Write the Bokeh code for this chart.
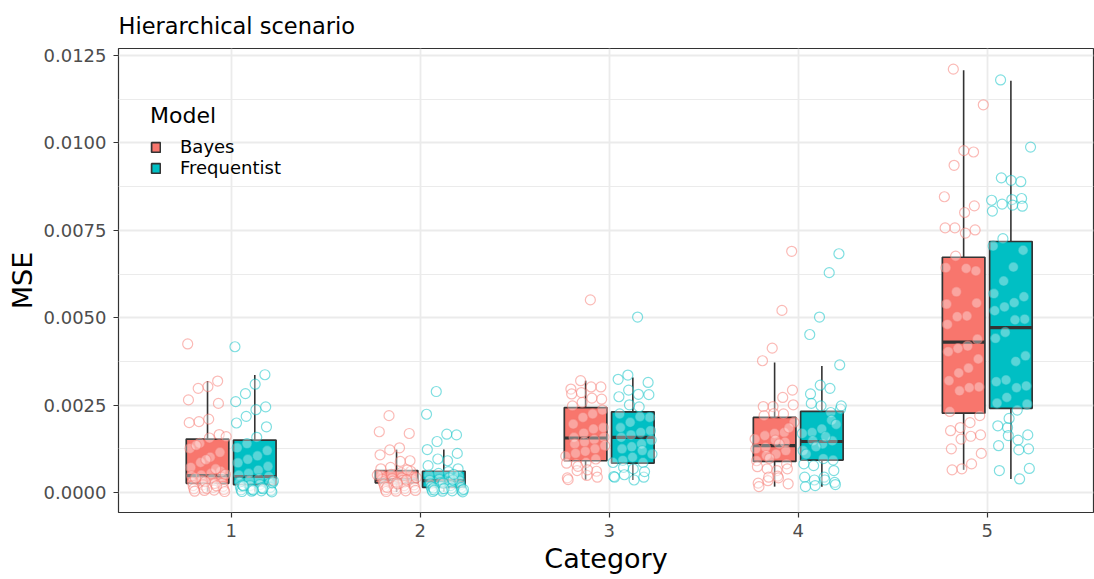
from bokeh.plotting import figure
from bokeh.models import (ColumnDataSource, FixedTicker, Legend, LegendItem,
                          Range1d, PrintfTickFormatter)
from bokeh.embed import file_html
from bokeh.resources import INLINE

# ---------------- data ----------------
categories = ["1", "2", "3", "4", "5"]
models = ["Bayes", "Frequentist"]

bayes_q1 = [0.000265, 0.00028, 0.00091, 0.00089, 0.00227]
bayes_med = [0.000485, 0.00037, 0.00156, 0.00134, 0.00430]
bayes_q3 = [0.00153, 0.00063, 0.00243, 0.00215, 0.00673]
bayes_lo = [0.00003, 0.00002, 0.00037, 0.00017, 0.00065]
bayes_hi = [0.00319, 0.00123, 0.00320, 0.00372, 0.01208]

freq_q1 = [0.00023, 0.00015, 0.00084, 0.00093, 0.00241]
freq_med = [0.00046, 0.00034, 0.00158, 0.00146, 0.00472]
freq_q3 = [0.00150, 0.00061, 0.00231, 0.00232, 0.00718]
freq_lo = [0.00002, 0.00002, 0.00036, 0.00017, 0.00039]
freq_hi = [0.00336, 0.00123, 0.00329, 0.00362, 0.01178]

bayes_pts_1 = [0.00425, 0.00319, 0.00303, 0.00298, 0.00265, 0.00255, 0.00210, 0.00203,
               0.00200, 0.00166, 0.00156, 0.00141, 0.00126, 0.00115, 0.00101, 0.00086,
               0.00072, 0.00061, 0.00055, 0.00050, 0.00048, 0.00044, 0.00039, 0.00034,
               0.00030, 0.00027, 0.00025, 0.00022, 0.00020, 0.00018, 0.00015, 0.00013,
               0.00011, 0.00009, 0.00007, 0.00006, 0.00004, 0.00003, 0.00026, 0.00031,
               0.00042, 0.00052, 0.00068, 0.00094, 0.00135, 0.00160, 0.00019, 0.00012]
freq_pts_1 = [0.00417, 0.00337, 0.00310, 0.00283, 0.00260, 0.00245, 0.00237, 0.00218,
              0.00199, 0.00188, 0.00158, 0.00140, 0.00128, 0.00120, 0.00105, 0.00095,
              0.00085, 0.00075, 0.00064, 0.00055, 0.00050, 0.00046, 0.00040, 0.00035,
              0.00030, 0.00026, 0.00023, 0.00020, 0.00017, 0.00015, 0.00012, 0.00010,
              0.00008, 0.00006, 0.00005, 0.00004, 0.00003, 0.00002, 0.00014, 0.00009,
              0.00021, 0.00028, 0.00011, 0.00007, 0.00019, 0.00033]
bayes_pts_2 = [0.00220, 0.00174, 0.00169, 0.00128, 0.00122, 0.00108, 0.00091, 0.00089,
               0.00072, 0.00068, 0.00061, 0.00057, 0.00052, 0.00048, 0.00045, 0.00042,
               0.00040, 0.00038, 0.00037, 0.00035, 0.00033, 0.00031, 0.00030, 0.00028,
               0.00026, 0.00024, 0.00022, 0.00020, 0.00018, 0.00016, 0.00014, 0.00012,
               0.00010, 0.00008, 0.00006, 0.00005, 0.00004, 0.00003, 0.00043, 0.00036,
               0.00029, 0.00015, 0.00050, 0.00065, 0.00025]
freq_pts_2 = [0.00289, 0.00224, 0.00165, 0.00167, 0.00146, 0.00123, 0.00112, 0.00091,
              0.00096, 0.00077, 0.00068, 0.00060, 0.00055, 0.00050, 0.00046, 0.00042,
              0.00038, 0.00035, 0.00033, 0.00030, 0.00028, 0.00025, 0.00022, 0.00020,
              0.00018, 0.00016, 0.00014, 0.00012, 0.00010, 0.00008, 0.00006, 0.00005,
              0.00004, 0.00003, 0.00002, 0.00036, 0.00027, 0.00013, 0.00009, 0.00052,
              0.00011, 0.00007]
bayes_pts_3 = [0.00551, 0.00320, 0.00296, 0.00302, 0.00302, 0.00286, 0.00282, 0.00267,
               0.00270, 0.00258, 0.00248, 0.00236, 0.00225, 0.00215, 0.00196, 0.00186,
               0.00182, 0.00170, 0.00158, 0.00158, 0.00152, 0.00145, 0.00139, 0.00134,
               0.00125, 0.00118, 0.00112, 0.00104, 0.00096, 0.00086, 0.00082, 0.00084,
               0.00061, 0.00049, 0.00063, 0.00042, 0.00044, 0.00065, 0.00075, 0.00037]
freq_pts_3 = [0.00502, 0.00336, 0.00324, 0.00315, 0.00281, 0.00293, 0.00274, 0.00280,
              0.00245, 0.00251, 0.00225, 0.00215, 0.00217, 0.00201, 0.00186, 0.00177,
              0.00172, 0.00165, 0.00158, 0.00150, 0.00139, 0.00131, 0.00125, 0.00110,
              0.00120, 0.00101, 0.00092, 0.00086, 0.00086, 0.00068, 0.00072, 0.00046,
              0.00044, 0.00036, 0.00051, 0.00044, 0.00060]
bayes_pts_4 = [0.00690, 0.00521, 0.00413, 0.00377, 0.00293, 0.00272, 0.00246, 0.00246,
               0.00251, 0.00225, 0.00226, 0.00220, 0.00201, 0.00172, 0.00169, 0.00163,
               0.00153, 0.00144, 0.00150, 0.00129, 0.00125, 0.00120, 0.00110, 0.00106,
               0.00091, 0.00082, 0.00063, 0.00068, 0.00074, 0.00068, 0.00047, 0.00034,
               0.00027, 0.00025, 0.00042, 0.00044, 0.00017, 0.00185, 0.00139, 0.00098]
freq_pts_4 = [0.00683, 0.00629, 0.00502, 0.00452, 0.00365, 0.00298, 0.00307, 0.00282,
              0.00239, 0.00229, 0.00248, 0.00255, 0.00248, 0.00207, 0.00182, 0.00172,
              0.00169, 0.00148, 0.00139, 0.00148, 0.00120, 0.00093, 0.00097, 0.00077,
              0.00082, 0.00063, 0.00044, 0.00036, 0.00044, 0.00029, 0.00036, 0.00020,
              0.00017, 0.00023, 0.00160, 0.00131, 0.00110, 0.00195]
bayes_pts_5 = [0.01211, 0.01109, 0.00974, 0.00978, 0.00936, 0.00846, 0.00820, 0.00801,
               0.00757, 0.00757, 0.00751, 0.00742, 0.00676, 0.00643, 0.00634, 0.00641,
               0.00574, 0.00539, 0.00542, 0.00505, 0.00503, 0.00481, 0.00439, 0.00419,
               0.00412, 0.00403, 0.00382, 0.00356, 0.00342, 0.00320, 0.00302, 0.00300,
               0.00291, 0.00232, 0.00220, 0.00200, 0.00186, 0.00177, 0.00165, 0.00161,
               0.00153, 0.00125, 0.00112, 0.00082, 0.00068, 0.00065]
freq_pts_5 = [0.01180, 0.00988, 0.00889, 0.00893, 0.00900, 0.00836, 0.00841, 0.00838,
              0.00825, 0.00805, 0.00819, 0.00822, 0.00726, 0.00705, 0.00693, 0.00645,
              0.00605, 0.00569, 0.00560, 0.00543, 0.00531, 0.00520, 0.00496, 0.00494,
              0.00458, 0.00441, 0.00391, 0.00375, 0.00322, 0.00317, 0.00305, 0.00300,
              0.00272, 0.00256, 0.00253, 0.00236, 0.00186, 0.00191, 0.00165, 0.00150,
              0.00163, 0.00134, 0.00125, 0.00122, 0.00212, 0.00063, 0.00069, 0.00039]

bayes_pts = [bayes_pts_1, bayes_pts_2, bayes_pts_3, bayes_pts_4, bayes_pts_5]
freq_pts = [freq_pts_1, freq_pts_2, freq_pts_3, freq_pts_4, freq_pts_5]

y_ticks = [0.0, 0.0025, 0.005, 0.0075, 0.01, 0.0125]

# ---------------- styling ----------------
FONT = "DejaVu Sans"
COLORS = {"Bayes": "#F8766D", "Frequentist": "#00BFC4"}
DODGE = 0.125
BOX_W = 0.225

p = figure(width=1094, height=579, output_backend="svg", toolbar_location=None,
           x_range=Range1d(0.404, 5.562), y_range=Range1d(-0.00057, 0.0127),
           min_border_left=118, min_border_right=1, min_border_top=47,
           min_border_bottom=67)
p.background_fill_color = "white"
p.border_fill_color = "white"
p.outline_line_color = "#333333"
p.outline_line_width = 1.2

p.title.text = "Hierarchical scenario"
p.title.text_font = FONT
p.title.text_font_size = "22.5px"
p.title.text_font_style = "normal"
p.title.text_color = "black"
p.title.align = "left"
p.title.standoff = 20

xs = list(range(1, len(categories) + 1))
p.xaxis.ticker = FixedTicker(ticks=xs)
p.xaxis.major_label_overrides = {i: c for i, c in zip(xs, categories)}
p.yaxis.ticker = FixedTicker(ticks=y_ticks,
                             minor_ticks=[0.00125, 0.00375, 0.00625, 0.00875, 0.01125])
p.yaxis.formatter = PrintfTickFormatter(format="%.4f")

for ax in (p.xaxis[0], p.yaxis[0]):
    ax.axis_line_color = None
    ax.major_tick_line_color = "#333333"
    ax.major_tick_line_width = 1.2
    ax.major_tick_out = 5
    ax.major_tick_in = 0
    ax.minor_tick_line_color = None
    ax.major_label_text_font = FONT
    ax.major_label_text_font_size = "18px"
    ax.major_label_text_color = "#4D4D4D"
    ax.axis_label_text_font = FONT
    ax.axis_label_text_font_size = "27px"
    ax.axis_label_text_font_style = "normal"
    ax.axis_label_text_color = "black"
p.xaxis.axis_label = "Category"
p.yaxis.axis_label = "MSE"
p.xaxis.major_label_standoff = 6
p.yaxis.major_label_standoff = 7
p.xaxis.axis_label_standoff = 3
p.yaxis.axis_label_standoff = 3

p.xgrid.grid_line_color = "#EBEBEB"
p.xgrid.grid_line_width = 1.8
p.ygrid.grid_line_color = "#EBEBEB"
p.ygrid.grid_line_width = 1.8
p.ygrid.minor_grid_line_color = "#EBEBEB"
p.ygrid.minor_grid_line_width = 1.0

box_renderers = {}
for model, q1, med, q3, lo, hi, pts, off in [
        ("Bayes", bayes_q1, bayes_med, bayes_q3, bayes_lo, bayes_hi, bayes_pts, -DODGE),
        ("Frequentist", freq_q1, freq_med, freq_q3, freq_lo, freq_hi, freq_pts, DODGE)]:
    cx = [x + off for x in xs]
    src = ColumnDataSource(dict(x=cx, q1=q1, med=med, q3=q3, lo=lo, hi=hi,
                                x0=[c - BOX_W / 2 for c in cx],
                                x1=[c + BOX_W / 2 for c in cx]))
    p.segment(x0="x", y0="q3", x1="x", y1="hi", source=src, line_color="#333333", line_width=1.6)
    p.segment(x0="x", y0="q1", x1="x", y1="lo", source=src, line_color="#333333", line_width=1.6)
    r = p.vbar(x="x", width=BOX_W, bottom="q1", top="q3", source=src,
               fill_color=COLORS[model], line_color="#333333", line_width=1.7)
    box_renderers[model] = r
    p.segment(x0="x0", y0="med", x1="x1", y1="med", source=src, line_color="#333333", line_width=3.2)

    px, py = [], []
    for ci, vals in enumerate(pts):
        for i, v in enumerate(vals):
            j = ((i * 0.7548776662 + ci * 0.31) % 1.0 - 0.5) * 0.21
            px.append(cx[ci] + j)
            py.append(v)
    p.scatter(px, py, size=10, marker="circle", fill_color="white", fill_alpha=0.35,
              line_color=COLORS[model], line_alpha=0.5, line_width=1.2)

legend = Legend(items=[LegendItem(label=m, renderers=[box_renderers[m]]) for m in models],
                location=(32, 334), title="Model")
legend.title_text_font = FONT
legend.title_text_font_size = "22px"
legend.title_text_font_style = "normal"
legend.title_text_color = "black"
legend.title_standoff = 8
legend.label_text_font = FONT
legend.label_text_font_size = "18px"
legend.label_text_color = "black"
legend.label_height = 18
legend.glyph_height = 12
legend.glyph_width = 11
legend.label_standoff = 19
legend.spacing = 0
legend.padding = 0
legend.margin = 0
legend.background_fill_alpha = 0
legend.border_line_color = None
p.add_layout(legend)

open("out.html", "w").write(file_html(p, INLINE))
